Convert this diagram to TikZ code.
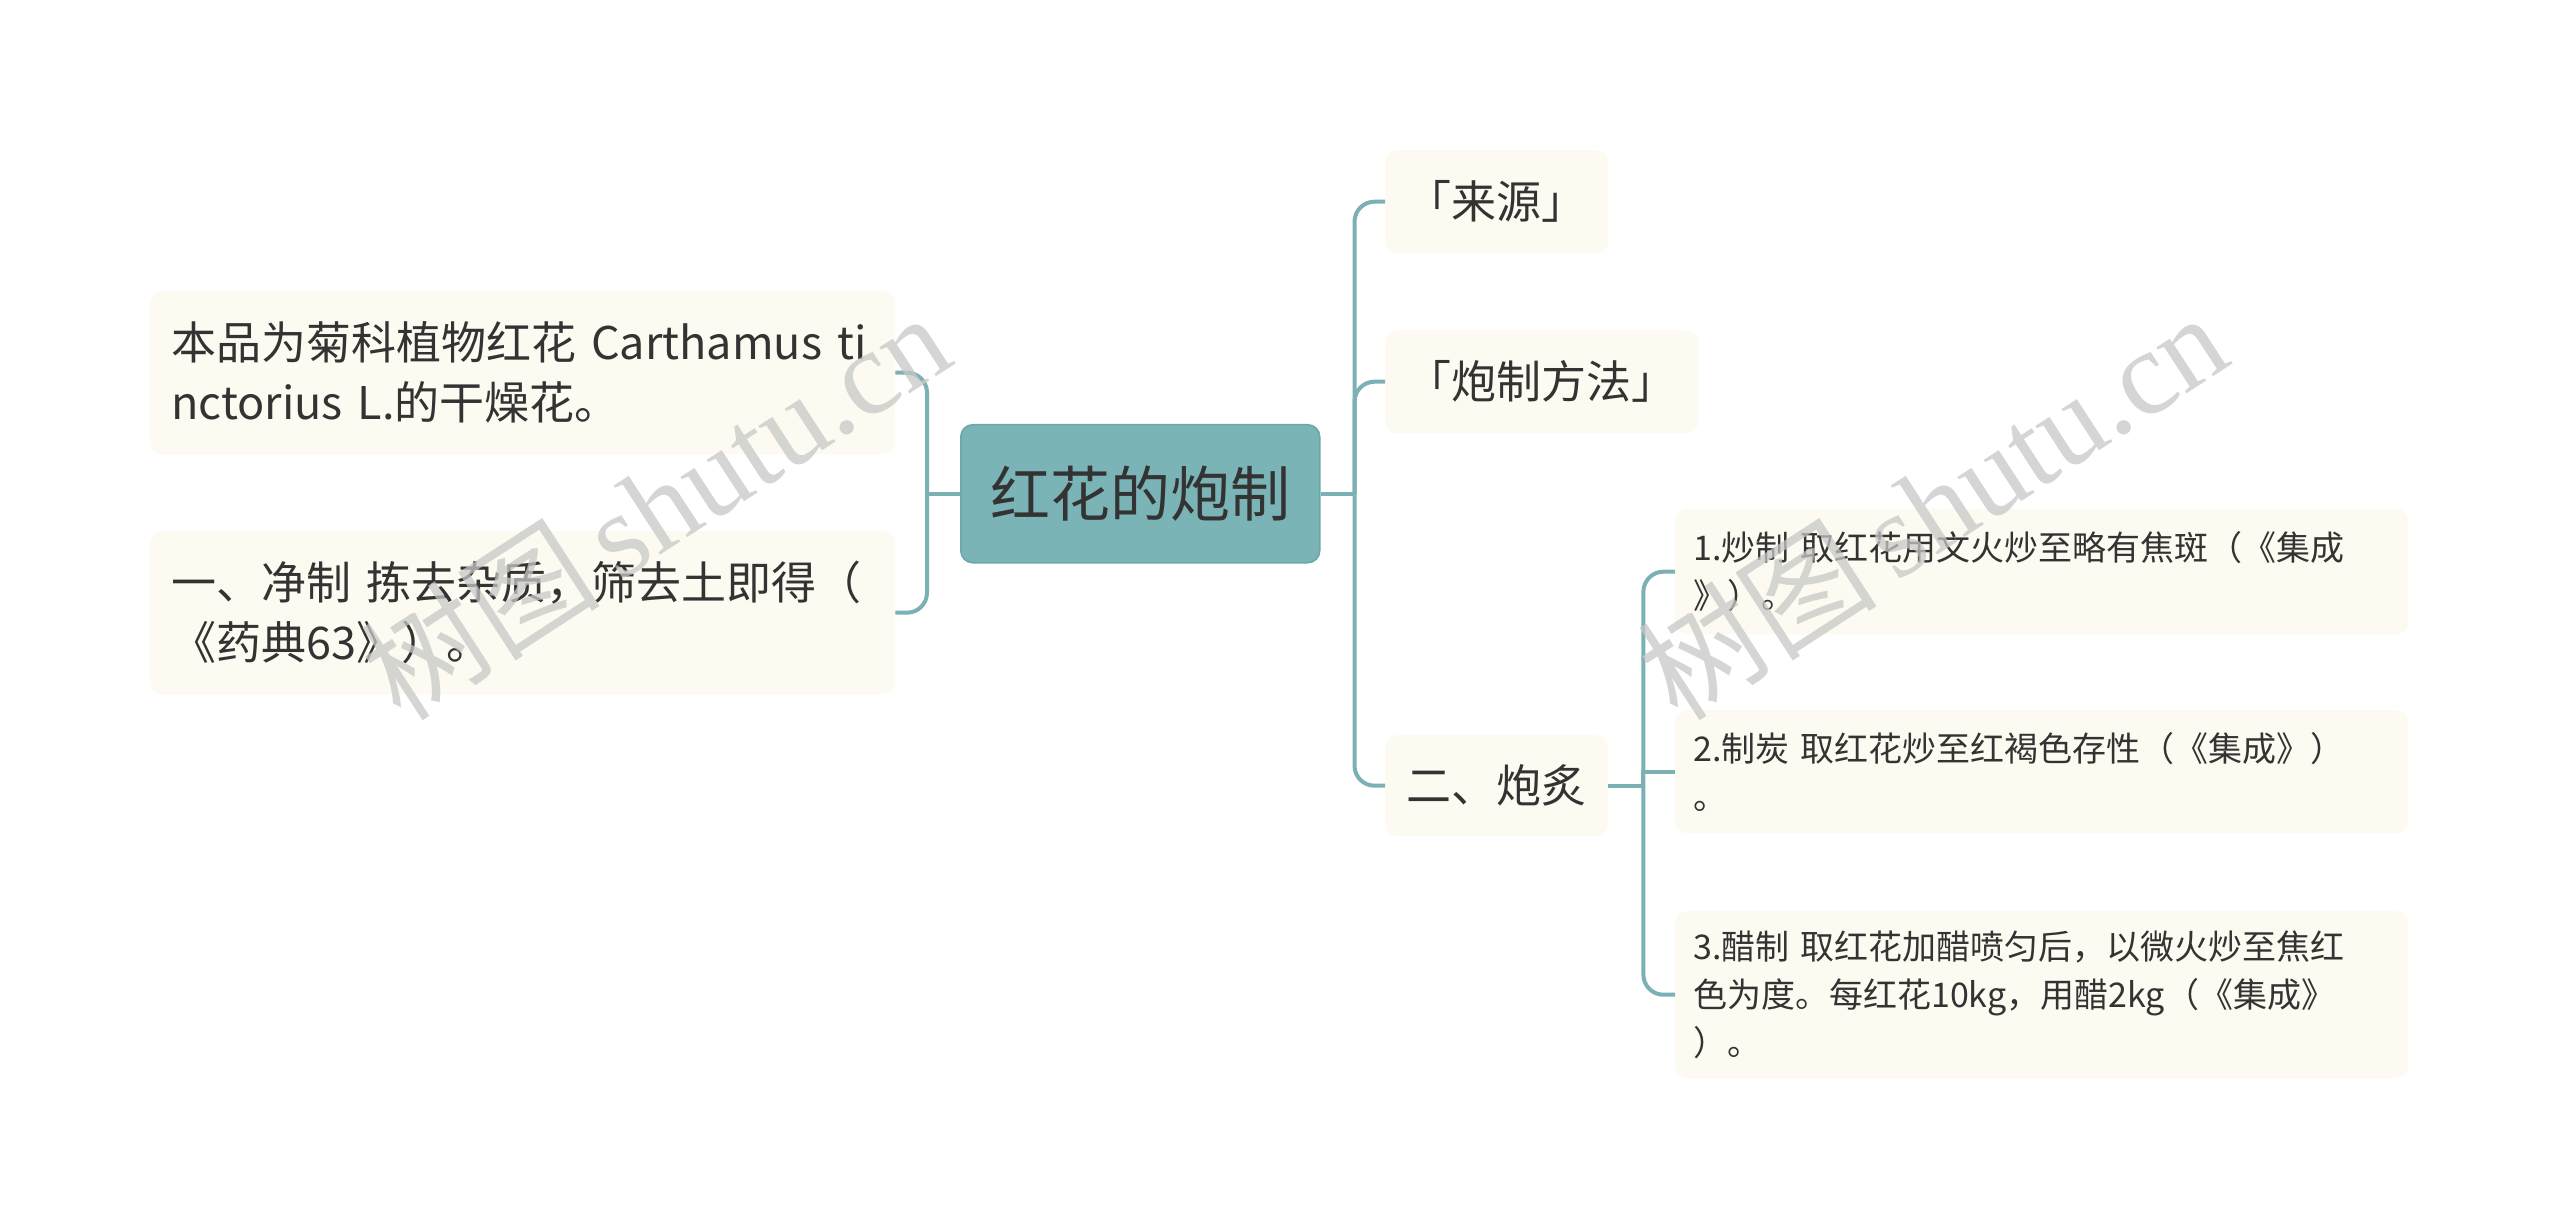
\documentclass[tikz,border=0pt]{standalone}
\usepackage{fontspec}
\setmainfont{Noto Sans CJK SC}
\newfontfamily\wmlatin{Liberation Serif}
\definecolor{linecol}{HTML}{7BB1B4}
\definecolor{rootfill}{HTML}{7BB4B7}
\definecolor{rootdraw}{HTML}{6BA6A9}
\definecolor{boxfill}{HTML}{FDFBF1}
\definecolor{textcol}{HTML}{333333}
\begin{document}
\begin{tikzpicture}[x=1pt,y=-1pt,
  conn/.style={draw=linecol, line width=4pt, rounded corners=20pt},
  rootbox/.style={fill=rootfill, draw=rootdraw, line width=1.5pt, rounded corners=12pt,
    anchor=north west, inner sep=0pt, align=center, text=textcol,
    font=\fontsize{60pt}{72pt}\selectfont},
  bigbox/.style={fill=boxfill, rounded corners=12pt, anchor=north west,
    inner xsep=21pt, inner ysep=0pt, align=left, text=textcol,
    font=\fontsize{45pt}{60pt}\selectfont},
  midbox/.style={fill=boxfill, rounded corners=12pt, anchor=north west,
    inner sep=0pt, align=center, text=textcol,
    font=\fontsize{45pt}{60pt}\selectfont},
  smallbox/.style={fill=boxfill, rounded corners=12pt, anchor=north west,
    inner xsep=18pt, inner ysep=0pt, align=left, text=textcol,
    font=\fontsize{34pt}{48pt}\selectfont},
  wmark/.style={text=black!22, opacity=0.75, rotate=33, inner sep=0pt,
    font=\fontsize{120pt}{130pt}\selectfont}
]
\useasboundingbox (0,0) rectangle (2560,1230);
\fill[white] (0,0) rectangle (2560,1230);

% root
\node[rootbox, minimum width=359pt, minimum height=138pt] (root) at (960,424) {红花的炮制};

% left
\node[bigbox, text width=703pt, minimum height=163pt] (src) at (150,291)
  {本品为菊科植物红花 Carthamus ti\\nctorius L.的干燥花。};
\node[bigbox, text width=703pt, minimum height=163pt] (clean) at (150,531)
  {一、净制 拣去杂质，筛去土即得（\\《药典63》）。};

% right level 1
\node[midbox, minimum width=223pt, minimum height=103pt] (lai) at (1385,150) {「来源」};
\node[midbox, minimum width=313pt, minimum height=103pt] (fang) at (1385,330) {「炮制方法」};
\node[midbox, minimum width=223pt, minimum height=101pt] (pao) at (1385,735) {二、炮炙};

% right level 2
\node[smallbox, text width=697pt, minimum height=125pt] (s1) at (1675,509)
  {1.炒制 取红花用文火炒至略有焦斑（《集成\\》）。};
\node[smallbox, text width=697pt, minimum height=123pt] (s2) at (1675,710)
  {2.制炭 取红花炒至红褐色存性（《集成》）\\。};
\node[smallbox, text width=697pt, minimum height=167pt] (s3) at (1675,911)
  {3.醋制 取红花加醋喷匀后，以微火炒至焦红\\色为度。每红花10kg，用醋2kg（《集成》\\）。};

% spine points
\coordinate (lj) at ([xshift=-33pt]root.west);
\coordinate (rj) at ([xshift=34pt]root.east);
\coordinate (pj) at ([xshift=35pt]pao.east);

% connectors
\draw[conn] (root.west) -- (lj);
\draw[conn] (src.east) -| (lj);
\draw[conn] (clean.east) -| (lj);
\draw[conn] (root.east) -- (rj);
\draw[conn] (lai.west) -| (rj);
\draw[conn] (fang.west) -| (rj);
\draw[conn] (pao.west) -| (rj);
\draw[conn] (pao.east) -- (pj);
\draw[conn] (s1.west) -| (pj);
\draw[conn, sharp corners] (s2.west) -| (pj);
\draw[conn] (s3.west) -| (pj);

% watermarks
\node[wmark] (wm1) at (655,505) {树图\,{\wmlatin shutu.cn}};
\node[wmark] (wm2) at (1932,505) {树图\,{\wmlatin shutu.cn}};
\end{tikzpicture}
\end{document}
